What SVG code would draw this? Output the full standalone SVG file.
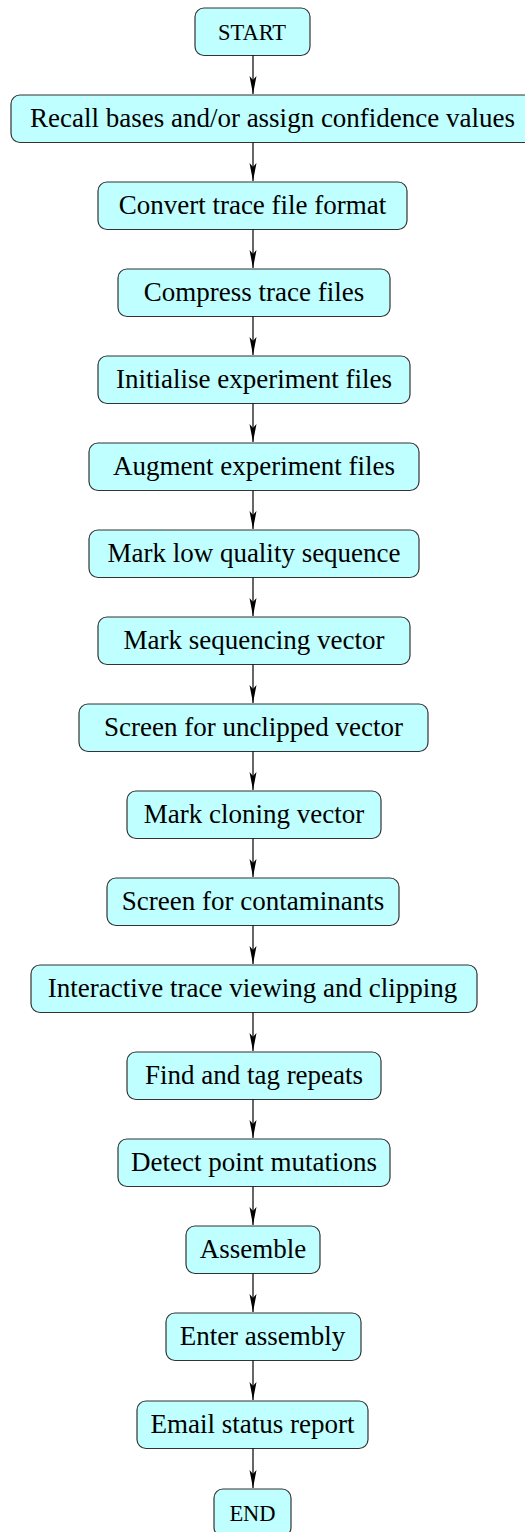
<svg xmlns="http://www.w3.org/2000/svg" width="525" height="1532" viewBox="0 0 525 1532">
<style>
.n rect{fill:#bfffff;stroke:#333;stroke-width:1.2}
.n text{font-family:"Liberation Serif","Times New Roman",serif;font-size:27px;fill:#000;text-anchor:middle}
.n text.s{font-size:22.5px}
#edges line{stroke:#000;stroke-width:1.2}
</style>
<defs>
<marker id="ah" markerWidth="19" markerHeight="8" refX="18" refY="3.5" orient="auto" markerUnits="userSpaceOnUse" viewBox="0 0 19 8">
<path d="M0,0 L18,3.5 L0,7 L4,3.5 Z" fill="#000"/>
</marker>
</defs>
<g id="n0" class="n"><rect x="195" y="8" width="115" height="47.5" rx="9"/><text class="s" x="252" y="40">START</text></g>
<g id="n1" class="n"><rect x="11" y="95" width="523" height="47.5" rx="9"/><text x="272.5" y="126.5">Recall bases and/or assign confidence values</text></g>
<g id="n2" class="n"><rect x="98" y="182" width="309" height="47.5" rx="9"/><text x="252.5" y="213.5">Convert trace file format</text></g>
<g id="n3" class="n"><rect x="118" y="269" width="272" height="47.5" rx="9"/><text x="254" y="300.5">Compress trace files</text></g>
<g id="n4" class="n"><rect x="98" y="356" width="312" height="47.5" rx="9"/><text x="254" y="387.5">Initialise experiment files</text></g>
<g id="n5" class="n"><rect x="89" y="443" width="330" height="47.5" rx="9"/><text x="254" y="474.5">Augment experiment files</text></g>
<g id="n6" class="n"><rect x="89" y="530" width="330" height="47.5" rx="9"/><text x="254" y="561.5">Mark low quality sequence</text></g>
<g id="n7" class="n"><rect x="98" y="617" width="312" height="47.5" rx="9"/><text x="254" y="648.5">Mark sequencing vector</text></g>
<g id="n8" class="n"><rect x="79" y="704" width="349" height="47.5" rx="9"/><text x="253.5" y="735.5">Screen for unclipped vector</text></g>
<g id="n9" class="n"><rect x="127" y="791" width="254" height="47.5" rx="9"/><text x="254" y="822.5">Mark cloning vector</text></g>
<g id="n10" class="n"><rect x="107" y="878" width="292" height="47.5" rx="9"/><text x="253" y="909.5">Screen for contaminants</text></g>
<g id="n11" class="n"><rect x="31" y="965" width="446" height="47.5" rx="9"/><text x="252.5" y="996.5">Interactive trace viewing and clipping</text></g>
<g id="n12" class="n"><rect x="127" y="1052" width="254" height="47.5" rx="9"/><text x="254" y="1083.5">Find and tag repeats</text></g>
<g id="n13" class="n"><rect x="118" y="1139" width="272" height="47.5" rx="9"/><text x="254" y="1170.5">Detect point mutations</text></g>
<g id="n14" class="n"><rect x="186" y="1226" width="134" height="47.5" rx="9"/><text x="253" y="1257.5">Assemble</text></g>
<g id="n15" class="n"><rect x="166" y="1313" width="195" height="47.5" rx="9"/><text x="262.5" y="1344.5">Enter assembly</text></g>
<g id="n16" class="n"><rect x="137" y="1401" width="231" height="47.5" rx="9"/><text x="252.5" y="1432.5">Email status report</text></g>
<g id="n17" class="n"><rect x="214" y="1489" width="77" height="47.5" rx="9"/><text class="s" x="252.5" y="1521">END</text></g>
<g id="edges">
<line x1="253" y1="55.5" x2="253" y2="94" marker-end="url(#ah)"/>
<line x1="253" y1="142.5" x2="253" y2="181" marker-end="url(#ah)"/>
<line x1="253" y1="229.5" x2="253" y2="268" marker-end="url(#ah)"/>
<line x1="253" y1="316.5" x2="253" y2="355" marker-end="url(#ah)"/>
<line x1="253" y1="403.5" x2="253" y2="442" marker-end="url(#ah)"/>
<line x1="253" y1="490.5" x2="253" y2="529" marker-end="url(#ah)"/>
<line x1="253" y1="577.5" x2="253" y2="616" marker-end="url(#ah)"/>
<line x1="253" y1="664.5" x2="253" y2="703" marker-end="url(#ah)"/>
<line x1="253" y1="751.5" x2="253" y2="790" marker-end="url(#ah)"/>
<line x1="253" y1="838.5" x2="253" y2="877" marker-end="url(#ah)"/>
<line x1="253" y1="925.5" x2="253" y2="964" marker-end="url(#ah)"/>
<line x1="253" y1="1012.5" x2="253" y2="1051" marker-end="url(#ah)"/>
<line x1="253" y1="1099.5" x2="253" y2="1138" marker-end="url(#ah)"/>
<line x1="253" y1="1186.5" x2="253" y2="1225" marker-end="url(#ah)"/>
<line x1="253" y1="1273.5" x2="253" y2="1312" marker-end="url(#ah)"/>
<line x1="253" y1="1360.5" x2="253" y2="1400" marker-end="url(#ah)"/>
<line x1="253" y1="1448.5" x2="253" y2="1488" marker-end="url(#ah)"/>
</g>
</svg>
